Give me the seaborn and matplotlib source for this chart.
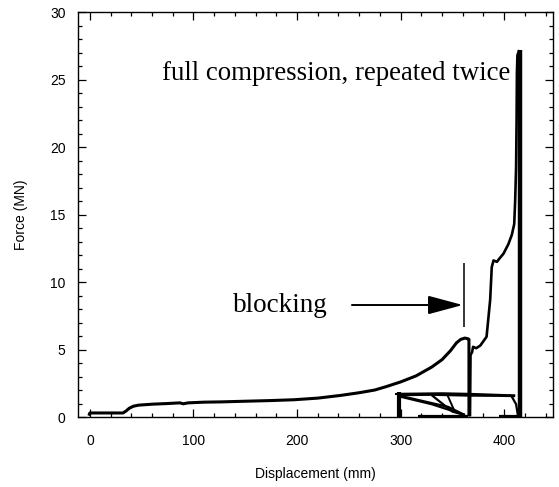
import matplotlib
matplotlib.use("Agg")
import matplotlib.pyplot as plt
from matplotlib.ticker import MultipleLocator
import seaborn as sns

# ---- data ----
load1_x = [-1, 0, 32, 35, 38, 42, 47, 60, 75, 87, 90, 95, 110, 126, 150, 175, 197,
           220, 242, 260, 275, 286, 300, 315, 330, 340, 348, 354, 358, 362, 365, 366, 366]
load1_y = [0.1, 0.3, 0.3, 0.45, 0.65, 0.8, 0.88, 0.95, 1.0, 1.05, 0.98, 1.05, 1.1, 1.12,
           1.17, 1.22, 1.28, 1.4, 1.6, 1.8, 2.0, 2.25, 2.6, 3.05, 3.7, 4.25, 4.9, 5.5,
           5.75, 5.85, 5.8, 5.75, 0.05]

load2_x = [367, 367.5, 369, 370, 373, 377, 383, 386.5, 388, 389.7, 393, 396, 399.3, 404,
           407.4, 409.7, 410.6, 411.5, 412, 412.3, 412.8, 414.5]
load2_y = [0.05, 4.6, 4.8, 5.2, 5.1, 5.3, 5.95, 8.7, 11.1, 11.6, 11.5, 11.8, 12.1, 12.8,
           13.5, 14.3, 16.0, 18.5, 22.0, 25.5, 26.8, 27.2]

spike_a_x = [415.5, 415.5]
spike_a_y = [27.2, 0.0]
spike_b_x = [414.3, 414.3]
spike_b_y = [0.0, 26.5]

post_x = [298, 298]
post_y = [0.0, 1.85]
cap_x = [295, 300]
cap_y = [1.72, 1.72]

top_a_x = [298, 330, 365, 395, 410.6]
top_a_y = [1.63, 1.66, 1.6, 1.58, 1.56]
top_b_x = [298, 340, 365, 410.6]
top_b_y = [1.72, 1.76, 1.72, 1.6]

diag_a_x = [298, 346, 362]
diag_a_y = [1.6, 0.75, 0.15]
diag_b_x = [300, 330, 362]
diag_b_y = [1.5, 0.95, 0.15]
diag_c_x = [330, 350, 362]
diag_c_y = [1.62, 0.4, 0.15]
diag_d_x = [345, 352]
diag_d_y = [1.66, 0.45]

floor_a_x = [317, 365]
floor_a_y = [0.08, 0.08]
right_x = [407, 411.5, 413.5]
right_y = [1.56, 0.95, 0.0]
floor_b_x = [395, 414]
floor_b_y = [0.1, 0.1]

block_x = [361, 361]
block_y = [6.7, 11.4]

x_ticks = [0, 100, 200, 300, 400]
y_ticks = [0, 5, 10, 15, 20, 25, 30]

# ---- style ----
sns.set_style("ticks")
plt.rcParams['font.family'] = ['Liberation Sans', 'DejaVu Sans']

fig = plt.figure(figsize=(5.59, 4.87), dpi=100)
ax = fig.add_axes([0.1395, 0.1437, 0.8495, 0.8313])

def seg(xs, ys, lw):
    sns.lineplot(x=xs, y=ys, sort=False, estimator=None, ax=ax, color='black',
                 linewidth=lw, solid_joinstyle='round', solid_capstyle='butt')

seg(load1_x, load1_y, 2.2)
seg(load2_x, load2_y, 1.9)
seg(spike_a_x, spike_a_y, 3.2)
seg(spike_b_x, spike_b_y, 2.0)
seg(post_x, post_y, 3.0)
seg(cap_x, cap_y, 1.5)
seg(top_a_x, top_a_y, 1.8)
seg(top_b_x, top_b_y, 1.5)
seg(diag_a_x, diag_a_y, 1.6)
seg(diag_b_x, diag_b_y, 1.6)
seg(diag_c_x, diag_c_y, 1.6)
seg(diag_d_x, diag_d_y, 1.4)
seg(floor_a_x, floor_a_y, 1.6)
seg(right_x, right_y, 1.6)
seg(floor_b_x, floor_b_y, 1.6)
seg(block_x, block_y, 1.1)

ax.annotate('', xy=(360, 8.3), xytext=(253, 8.3),
            arrowprops=dict(arrowstyle='-|>,head_length=2.16,head_width=0.58',
                            mutation_scale=10, lw=1.4, color='black',
                            shrinkA=0, shrinkB=0))

ax.text(69.5, 25.0, 'full compression, repeated twice', family='Liberation Serif',
        fontsize=19.4, ha='left', va='baseline', color='black')
ax.text(138, 7.8, 'blocking', family='Liberation Serif',
        fontsize=19.5, ha='left', va='baseline', color='black')

ax.set_xlim(-11.5, 447)
ax.set_ylim(0, 30)
ax.set_xticks(x_ticks)
ax.set_yticks(y_ticks)
ax.xaxis.set_minor_locator(MultipleLocator(20))
ax.yaxis.set_minor_locator(MultipleLocator(1))
ax.tick_params(which='both', direction='in', top=True, right=True, color='black',
               width=0.9, labelsize=10, labelcolor='black')
ax.tick_params(which='major', length=5.5)
ax.tick_params(which='minor', length=3)
ax.tick_params(axis='x', which='major', pad=12)
ax.tick_params(axis='y', which='major', pad=9)
for s in ax.spines.values():
    s.set_visible(True)
    s.set_color('black')
    s.set_linewidth(1.0)

ax.set_xlabel('Displacement (mm)', fontsize=10, color='black', labelpad=14)
ax.set_ylabel('Force (MN)', fontsize=10, color='black', labelpad=16)

fig.savefig('out.png', dpi=100)
